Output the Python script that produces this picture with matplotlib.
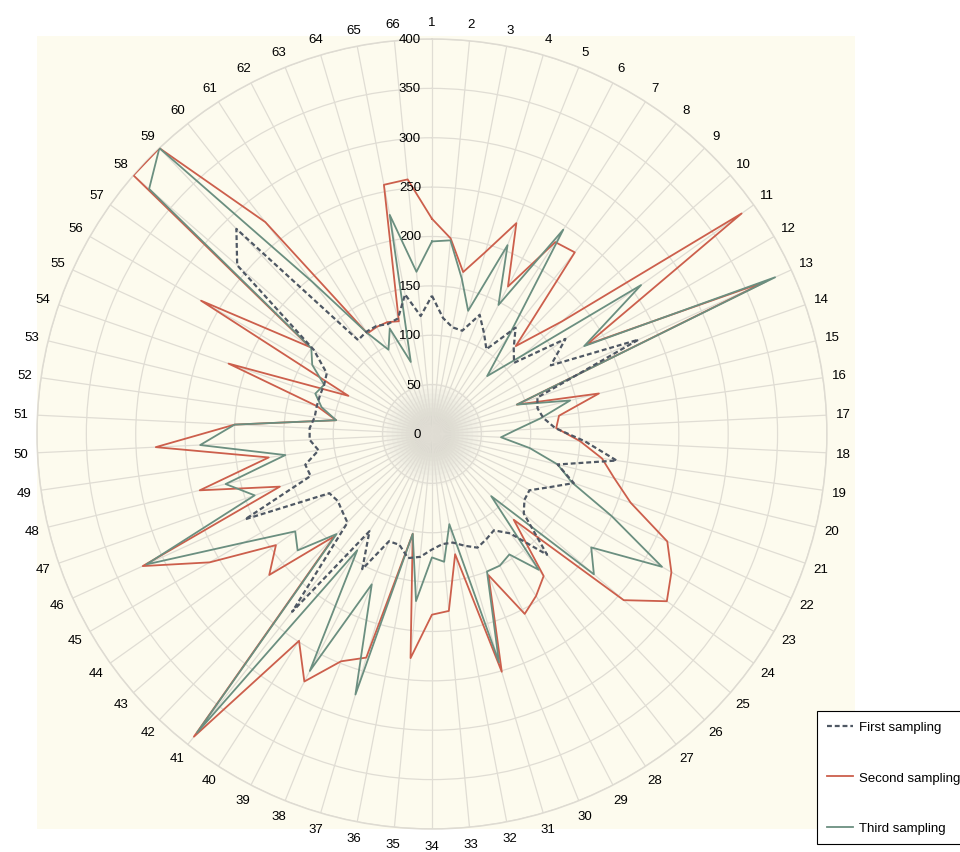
import numpy as np
import matplotlib
matplotlib.use("Agg")
import matplotlib.pyplot as plt
from matplotlib.patches import Rectangle
import matplotlib.transforms as mtransforms

plt.rcParams['font.family'] = ['Liberation Sans', 'DejaVu Sans']

# sampling sites 1..66
sites = [str(i) for i in range(1, 67)]

first_sampling = [
    140, 118, 110, 109, 130, 115, 102, 137, 120, 110,
    166, 139, 230, 113, 110, 114, 125, 155, 189, 131,
    152, 130, 114, 115, 123, 169, 128, 116, 120, 124,
    118, 112, 112, 117, 125, 128, 117, 117, 154, 117,
    229, 124, 120, 117, 120, 208, 130, 132, 116, 124,
    124, 120, 120, 120, 120, 123, 147, 261, 287, 121,
    123, 123, 120, 122, 144, 120]

second_sampling = [
    218, 199, 167, 192, 230, 168, 231, 234, 123, 174,
    385, 181, 372, 91, 174, 130, 126, 150, 174, 190,
    213, 262, 280, 292, 257, 120, 183, 195, 205, 154,
    251, 124, 180, 183, 228, 103, 236, 248, 282, 249,
    390, 143, 218, 194, 260, 322, 163, 242, 167, 280,
    200, 98, 120, 218, 93, 270, 152, 400, 400, 273,
    121, 122, 122, 119, 257, 259]

third_sampling = [
    195, 197, 160, 130, 206, 147, 246, 125, 81, 122,
    260, 178, 382, 91, 144, 111, 85, 70, 100, 131,
    150, 200, 269, 198, 217, 87, 175, 145, 150, 150,
    241, 93, 130, 125, 170, 103, 275, 164, 270, 140,
    385, 140, 180, 170, 220, 318, 190, 215, 150, 235,
    200, 98, 115, 125, 120, 140, 150, 379, 400, 196,
    122, 96, 115, 76, 226, 165]

r_ticks = [0, 50, 100, 150, 200, 250, 300, 350, 400]

n = len(sites)
theta = np.arange(n) * 2 * np.pi / n
theta_c = np.append(theta, theta[0])

fig = plt.figure(figsize=(9.6, 8.53), dpi=100)
bg = Rectangle((0.0385, 0.027), 0.852, 0.930, transform=fig.transFigure,
               facecolor='#fdfbee', edgecolor='none', zorder=-10)
fig.patches.append(bg)

ax = fig.add_axes([0.0385, 0.0270, 0.8229, 0.9261], projection='polar')
ax.set_facecolor('none')
ax.set_theta_zero_location('N')
ax.set_theta_direction(-1)
ax.set_ylim(0, 400)

ax.set_xticks(theta)
ax.set_xticklabels([])
ax.set_yticks(r_ticks)
ax.set_yticklabels([])
ax.grid(True, color='#e0ddd4', linewidth=0.9)
ax.spines['polar'].set_color('#dedbd2')
ax.spines['polar'].set_linewidth(1.1)
ax.tick_params(length=0)

# grey haze where the spokes meet
full = np.linspace(0, 2 * np.pi, 100)
for k in range(1, 16):
    ax.fill_between(full, 0, 52 * (k / 15) ** 1.6,
                    color='#808080', alpha=0.035, linewidth=0, zorder=1)

ax.plot(theta_c, np.append(second_sampling, second_sampling[0]),
        color='#cc5f4c', lw=1.3, zorder=3, label='Second sampling')
ax.plot(theta_c, np.append(third_sampling, third_sampling[0]),
        color='#6b8f80', lw=1.3, zorder=4, label='Third sampling')
ax.plot(theta_c, np.append(first_sampling, first_sampling[0]),
        color='#4f5864', lw=1.6, ls=(0, (2.2, 1.3)), zorder=5, label='First sampling')

# site numbers around the rim
for t, s in zip(theta, sites):
    ax.text(t, 417, s, ha='center', va='center', fontsize=9.5, clip_on=False)

# radial values along the first spoke
off = mtransforms.offset_copy(ax.transData, fig=fig, x=-11, y=0, units='dots')
for v in r_ticks:
    ax.text(0, v, str(v), transform=off, ha='right', va='center', fontsize=9.5)

h, l = ax.get_legend_handles_labels()
order = [2, 0, 1]
leg = fig.legend([h[i] for i in order], [l[i] for i in order],
                 loc='upper left', bbox_to_anchor=(0.851, 0.165),
                 fontsize=9.5, frameon=True, fancybox=False, framealpha=1,
                 edgecolor='black', labelspacing=2.9, borderpad=0.75,
                 handlelength=2.0, handletextpad=0.4, borderaxespad=0)
leg.get_frame().set_linewidth(0.8)

fig.savefig('out.png', dpi=100)
